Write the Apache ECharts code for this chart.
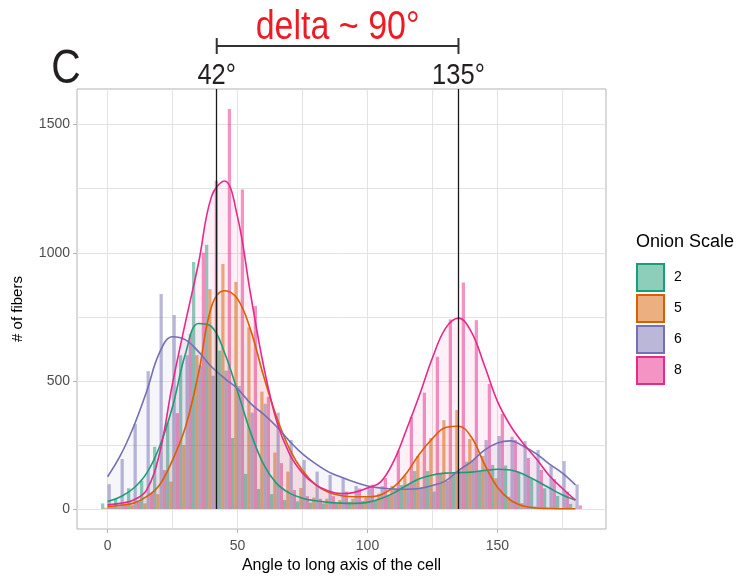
<!DOCTYPE html>
<html>
<head>
<meta charset="utf-8">
<script src="https://cdn.jsdelivr.net/npm/echarts@6/dist/echarts.min.js"></script>
<style>
  html, body { margin: 0; padding: 0; background: #ffffff; }
  #chart { width: 743px; height: 581px; }
</style>
</head>
<body>
<div id="chart"></div>
<script>
// Histogram bin centres (degrees), bins are 5° wide
const angles = [0,5,10,15,20,25,30,35,40,45,50,55,60,65,70,75,80,85,90,95,100,105,110,115,120,125,130,135,140,145,150,155,160,165,170,175,180];

// Onion scale groups and their colours
const groups = ['2', '5', '6', '8'];
const groupColors = ['#1B9E77', '#D95F02', '#7570B3', '#E7298A'];

// Fibre counts per bin
const counts2 = [22,40,81,110,243,337,600,964,1031,618,277,137,78,58,35,30,25,22,20,28,32,35,55,94,148,148,140,144,185,150,172,170,146,120,81,51,20];
const counts5 = [5,10,15,22,58,107,250,600,858,956,886,709,458,220,146,82,45,40,35,40,45,60,90,130,207,277,347,386,273,207,120,48,23,10,5,3,2];
const counts6 = [97,195,332,538,839,757,600,560,520,540,480,376,411,376,269,191,146,133,120,90,85,90,80,95,85,68,110,150,191,269,285,282,265,230,168,187,96];
const counts8 = [10,20,28,62,152,374,683,1000,1281,1561,1247,792,438,179,74,50,40,50,68,80,95,121,228,360,454,594,740,884,737,488,371,269,199,152,117,68,14];

// Density estimates scaled to counts, sampled at the bin centres
const kde2 = [29,48,81,139,243,399,607,724,712,610,460,300,175,100,62,42,32,26,23,22,26,40,62,92,118,133,140,142,144,150,155,152,136,110,82,55,35];
const kde5 = [9,15,23,48,94,191,321,530,790,852,820,700,520,360,235,150,95,65,52,48,48,55,85,140,215,275,318,323,280,175,85,35,12,4,2,1,1];
const kde6 = [126,210,321,458,610,672,660,614,555,510,470,412,370,322,265,215,177,145,124,105,90,82,78,77,80,92,110,150,185,230,258,266,245,215,175,140,94];
const kde8 = [16,22,35,74,217,490,730,960,1220,1280,1140,840,560,345,215,140,95,70,60,65,82,105,185,310,445,590,705,745,690,560,420,325,255,195,130,80,35];

// Axis ticks
const xMajorTicks = [0, 50, 100, 150];
const xMinorTicks = [25, 75, 125, 175];
const yMajorTicks = [0, 500, 1000, 1500];
const yMinorTicks = [250, 750, 1250];

// Peak angles marked on the plot
const peakAngles = [42, 135];
const deltaLabel = 'delta ~ 90°';

const countSets = [counts2, counts5, counts6, counts8];
const kdeSets = [kde2, kde5, kde6, kde8];

const X_MIN = -11.75, X_MAX = 191.75;
const Y_MIN = -78, Y_MAX = 1639;

const SANS = "'Liberation Sans', Arial, sans-serif";
const NARROW_SCALE = 0.85;   // condensed look for the annotation lettering

function hexToRgba(hex, a) {
  const n = parseInt(hex.slice(1), 16);
  return 'rgba(' + ((n >> 16) & 255) + ',' + ((n >> 8) & 255) + ',' + (n & 255) + ',' + a + ')';
}

const gridColor = '#e3e3e3';

const barSeries = groups.map((g, i) => ({
  name: g,
  type: 'bar',
  xAxisIndex: 0,
  yAxisIndex: 0,
  barWidth: '25%',
  barGap: '0%',
  itemStyle: { color: hexToRgba(groupColors[i], 0.5) },
  data: angles.map((a, k) => [a, countSets[i][k]]),
  z: 2
}));

const kdeSeries = groups.map((g, i) => ({
  name: g,
  type: 'line',
  xAxisIndex: 0,
  yAxisIndex: 0,
  smooth: 0.4,
  symbol: 'none',
  lineStyle: { color: groupColors[i], width: 1.6 },
  itemStyle: { color: groupColors[i] },
  areaStyle: { color: hexToRgba(groupColors[i], 0.1) },
  data: angles.map((a, k) => [a, kdeSets[i][k]]),
  z: 3
}));

// Vertical peak markers from zero up to the top of the panel
const peakSeries = {
  name: 'peaks',
  type: 'line',
  xAxisIndex: 0,
  yAxisIndex: 0,
  data: [],
  z: 4,
  markLine: {
    silent: true,
    symbol: ['none', 'none'],
    label: { show: false },
    lineStyle: { color: '#1a1a1a', width: 1.3, type: 'solid' },
    data: peakAngles.map(a => [{ coord: [a, 0] }, { coord: [a, Y_MAX] }])
  }
};

const chart = echarts.init(document.getElementById('chart'), null, { renderer: 'canvas' });

const axisLabelStyle = { color: '#4d4d4d', fontSize: 14, fontFamily: SANS };
const plainNumber = v => String(v);

chart.setOption({
  animation: false,
  backgroundColor: '#ffffff',
  title: {
    text: 'Onion Scale',
    left: 636,
    top: 233,
    padding: 0,
    textStyle: { fontFamily: SANS, fontSize: 18, fontWeight: 'normal', color: '#000' }
  },
  legend: {
    orient: 'vertical',
    left: 636,
    top: 263,
    padding: 0,
    itemWidth: 27,
    itemHeight: 27,
    itemGap: 2,
    icon: 'rect',
    textStyle: { fontFamily: SANS, fontSize: 14, color: '#000', padding: [0, 0, 0, 5] },
    data: groups.map((g, i) => ({
      name: g,
      icon: 'rect',
      itemStyle: { color: hexToRgba(groupColors[i], 0.5), borderColor: groupColors[i], borderWidth: 2 }
    }))
  },
  grid: {
    left: 77, right: 137, top: 89, bottom: 52,
    show: true, borderColor: '#b3b3b3', borderWidth: 1, backgroundColor: 'transparent'
  },
  xAxis: [
    {
      type: 'value', min: X_MIN, max: X_MAX,
      name: 'Angle to long axis of the cell',
      nameLocation: 'middle', nameGap: 27,
      nameTextStyle: { fontFamily: SANS, fontSize: 16, color: '#000' },
      axisLine: { show: false, onZero: false },
      axisTick: { show: true, length: 4, lineStyle: { color: '#b3b3b3' }, customValues: xMajorTicks },
      axisLabel: Object.assign({ margin: 10, customValues: xMajorTicks, formatter: plainNumber }, axisLabelStyle),
      splitLine: { show: true, lineStyle: { color: gridColor, width: 1 } }
    },
    {
      type: 'value', min: X_MIN, max: X_MAX, position: 'bottom',
      axisLine: { show: false, onZero: false },
      axisTick: { show: false, customValues: xMinorTicks },
      axisLabel: { show: false, customValues: xMinorTicks },
      splitLine: { show: true, lineStyle: { color: gridColor, width: 1 } }
    }
  ],
  yAxis: [
    {
      type: 'value', min: Y_MIN, max: Y_MAX,
      name: '# of fibers',
      nameLocation: 'middle', nameGap: 52, nameRotate: 90,
      nameTextStyle: { fontFamily: SANS, fontSize: 15, color: '#000' },
      axisLine: { show: false, onZero: false },
      axisTick: { show: true, length: 4, lineStyle: { color: '#b3b3b3' }, customValues: yMajorTicks },
      axisLabel: Object.assign({ margin: 7, customValues: yMajorTicks, formatter: plainNumber }, axisLabelStyle),
      splitLine: { show: true, lineStyle: { color: gridColor, width: 1 } }
    },
    {
      type: 'value', min: Y_MIN, max: Y_MAX, position: 'left',
      axisLine: { show: false, onZero: false },
      axisTick: { show: false, customValues: yMinorTicks },
      axisLabel: { show: false, customValues: yMinorTicks },
      splitLine: { show: true, lineStyle: { color: gridColor, width: 1 } }
    }
  ],
  series: barSeries.concat(kdeSeries, [peakSeries])
});

// Panel letter, peak labels, bracket between the two peaks and the delta annotation
const xa = chart.convertToPixel({ xAxisIndex: 0 }, peakAngles[0]);
const xb = chart.convertToPixel({ xAxisIndex: 0 }, peakAngles[1]);
const bracketY = 46;

function annotation(text, x, y, size, color) {
  return {
    type: 'text', silent: true, x: x, y: y, scaleX: NARROW_SCALE,
    style: { text: text, fontFamily: SANS, fontSize: size, fill: color, align: 'center', verticalAlign: 'middle' }
  };
}

chart.setOption({
  graphic: [
    annotation('C', 66, 70, 48, '#231f20'),
    annotation(peakAngles[0] + '°', xa, 76, 30, '#231f20'),
    annotation(peakAngles[1] + '°', xb, 76, 30, '#231f20'),
    {
      type: 'line', silent: true,
      shape: { x1: xa, y1: bracketY, x2: xb, y2: bracketY },
      style: { stroke: '#333333', lineWidth: 2 }
    },
    {
      type: 'line', silent: true,
      shape: { x1: xa, y1: bracketY - 8, x2: xa, y2: bracketY + 8 },
      style: { stroke: '#333333', lineWidth: 2 }
    },
    {
      type: 'line', silent: true,
      shape: { x1: xb, y1: bracketY - 8, x2: xb, y2: bracketY + 8 },
      style: { stroke: '#333333', lineWidth: 2 }
    },
    annotation(deltaLabel, (xa + xb) / 2, 28, 40, '#ED1C24')
  ]
});
</script>
</body>
</html>
